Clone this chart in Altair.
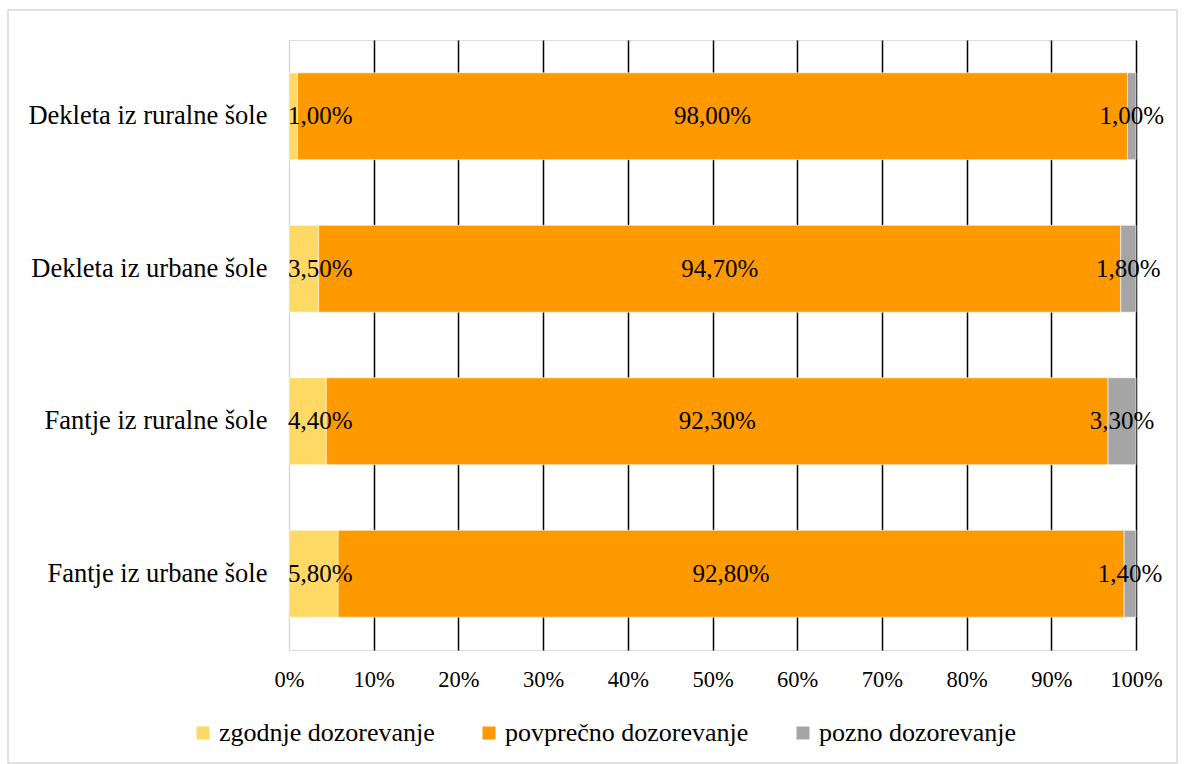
import altair as alt
import pandas as pd

categories = ["Dekleta iz ruralne šole", "Dekleta iz urbane šole",
              "Fantje iz ruralne šole", "Fantje iz urbane šole"]
series = ["zgodnje dozorevanje", "povprečno dozorevanje", "pozno dozorevanje"]
zgodnje = [1.00, 3.50, 4.40, 5.80]
povprecno = [98.00, 94.70, 92.30, 92.80]
pozno = [1.00, 1.80, 3.30, 1.40]
colors = ["#FFD966", "#FF9900", "#A5A5A5"]
tick_values = [0, 0.1, 0.2, 0.3, 0.4, 0.5, 0.6, 0.7, 0.8, 0.9, 1.0]

rows = []
for i, cat in enumerate(categories):
    start = 0.0
    for j, (name, vals) in enumerate(zip(series, [zgodnje, povprecno, pozno])):
        v = vals[i] / 100.0
        rows.append({
            "cat": cat, "series": name, "order": j, "value": v,
            "start": start, "end": start + v, "mid": start + v / 2,
            "label": f"{vals[i]:.2f}".replace(".", ",") + "%",
        })
        start += v
df = pd.DataFrame(rows)

FONT = "'Liberation Serif', 'Times New Roman', serif"

y_enc = alt.Y("cat:N", sort=categories, title=None,
              scale=alt.Scale(paddingInner=0.43, paddingOuter=0.215),
              axis=alt.Axis(domain=False, ticks=False, labelFont=FONT, labelFontSize=26.5,
                            labelColor="black", labelPadding=22, grid=False, labelLimit=400))

bars = alt.Chart(df).mark_bar(stroke="white", strokeWidth=0.6).encode(
    x=alt.X("start:Q", scale=alt.Scale(domain=[0, 1], nice=False), title=None,
            axis=alt.Axis(values=tick_values, format=".0%", domain=False, ticks=False,
                          labelFont=FONT, labelFontSize=22.5, labelColor="black",
                          labelPadding=18, labelFlush=False,
                          gridColor={"condition": {"test": "datum.value === 0", "value": "#D9D9D9"},
                                     "value": "black"},
                          gridWidth=1.5, gridOpacity=1)),
    x2="end:Q",
    y=y_enc,
    color=alt.Color("series:N", sort=series,
                    scale=alt.Scale(domain=series, range=colors),
                    legend=alt.Legend(title=None, orient="none", direction="horizontal",
                                      legendX=-99, legendY=680, symbolType="square",
                                      symbolSize=169, symbolStrokeWidth=0,
                                      labelFont=FONT, labelFontSize=26, labelColor="black",
                                      labelOffset=3, columnPadding=41, padding=0,
                                      labelLimit=400)),
    order=alt.Order("order:Q"),
)

first_labels = alt.Chart(df[df["order"] == 0]).mark_text(
    align="left", baseline="middle", font=FONT, fontSize=25, color="black", dx=-1
).encode(x="start:Q", y=alt.Y("cat:N", sort=categories), text="label:N")

other_labels = alt.Chart(df[df["order"] > 0]).mark_text(
    align="center", baseline="middle", font=FONT, fontSize=25, color="black"
).encode(x="mid:Q", y=alt.Y("cat:N", sort=categories), text="label:N")

frame = alt.Chart(df.head(1)).mark_rect(fill=None, stroke="#D9D9D9", strokeWidth=1.5).encode(
    x=alt.value(-281), x2=alt.value(888), y=alt.value(-30), y2=alt.value(723)
)

chart = alt.layer(frame, bars, first_labels, other_labels).properties(
    width=847, height=610,
    autosize=alt.AutoSizeParams(type="none"),
    padding={"left": 289, "top": 40, "right": 48, "bottom": 114},
).configure_view(stroke=None).configure(background="white")

chart.save("out.html", embed_options={"renderer": "svg", "actions": False})
